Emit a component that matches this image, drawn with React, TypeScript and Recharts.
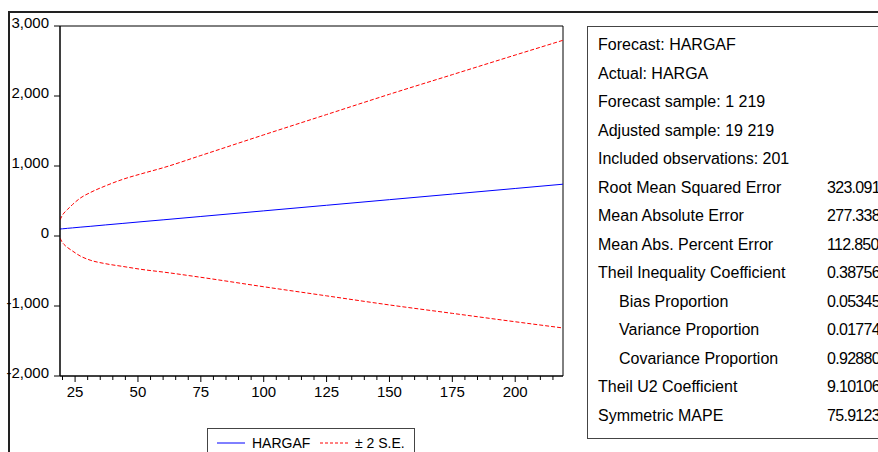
import React from 'react';
import { LineChart, Line, XAxis, YAxis, ReferenceArea } from 'recharts';

const xs = [19, 20, 21, 22, 24, 27, 31, 37, 44, 52, 60, 75, 100, 125, 150, 175, 200, 219];
const forecast = [100, 103, 106, 110, 116, 126, 138, 158, 180, 206, 231, 279, 359, 439, 519, 599, 679, 740];
const upper = [230, 300, 345, 380, 450, 540, 620, 715, 810, 895, 975, 1150, 1445, 1735, 2025, 2305, 2585, 2796];
const lower = [-30, -95, -135, -165, -215, -285, -345, -395, -435, -480, -515, -590, -725, -855, -985, -1105, -1225, -1314];

const yTicks = [-2000, -1000, 0, 1000, 2000, 3000];
const xTicksAll = [20, 25, 30, 35, 40, 45, 50, 55, 60, 65, 70, 75, 80, 85, 90, 95, 100, 105, 110, 115, 120, 125, 130, 135, 140, 145, 150, 155, 160, 165, 170, 175, 180, 185, 190, 195, 200, 205, 210, 215];
const xTicksMajor = [25, 50, 75, 100, 125, 150, 175, 200];

const statLabels = [
  'Forecast: HARGAF',
  'Actual: HARGA',
  'Forecast sample: 1 219',
  'Adjusted sample: 19 219',
  'Included observations: 201',
  'Root Mean Squared Error',
  'Mean Absolute Error',
  'Mean Abs. Percent Error',
  'Theil Inequality Coefficient',
  'Bias Proportion',
  'Variance Proportion',
  'Covariance Proportion',
  'Theil U2 Coefficient',
  'Symmetric MAPE',
];
const statValues = ['', '', '', '', '', '323.0910', '277.3388', '112.8502', '0.387565', '0.053455', '0.017741', '0.928804', '9.101065', '75.91238'];
const statIndented = [false, false, false, false, false, false, false, false, false, true, true, true, false, false];

const seriesNames = ['HARGAF', '\u00B1 2 S.E.'];

const data = xs.map((x, i) => ({ x, forecast: forecast[i], upper: upper[i], lower: lower[i] }));

const FONT = '"Liberation Sans", Arial, Helvetica, sans-serif';

const XTick = (props: any) => {
  const { x, y, payload } = props;
  const major = xTicksMajor.includes(payload.value);
  return (
    <g>
      <line x1={x} y1={y} x2={x} y2={y + (major ? 6 : 4)} stroke="#000" strokeWidth={1} />
      {major && (
        <text x={x} y={y + 21} textAnchor="middle" fontSize={15} fontFamily={FONT} fill="#000">
          {payload.value}
        </text>
      )}
    </g>
  );
};

const YTick = (props: any) => {
  const { x, y, payload } = props;
  return (
    <text x={x} y={y - 3} dy="0.36em" textAnchor="end" fontSize={15} fontFamily={FONT} fill="#000">
      {Number(payload.value).toLocaleString('en-US')}
    </text>
  );
};

export default function App() {
  return (
    <div
      style={{
        position: 'absolute',
        left: 0,
        top: 0,
        width: 878,
        height: 452,
        overflow: 'hidden',
        background: '#fff',
        fontFamily: FONT,
      }}
    >
      {/* outer frame */}
      <div style={{ position: 'absolute', left: 8, top: 11, width: 900, height: 2, background: '#222' }} />
      <div style={{ position: 'absolute', left: 8, top: 11, width: 2, height: 460, background: '#222' }} />

      <div style={{ position: 'absolute', left: 0, top: 0 }}>
        <LineChart width={580} height={452} data={data} margin={{ top: 26, right: 17, bottom: 46, left: 0 }}>
          <XAxis
            dataKey="x"
            type="number"
            domain={[19, 219]}
            ticks={xTicksAll}
            interval={0}
            tickLine={false}
            tickSize={0}
            tickMargin={0}
            height={30}
            axisLine={{ stroke: '#000' }}
            tick={<XTick />}
            allowDataOverflow
          />
          <YAxis
            type="number"
            domain={[-2000, 3000]}
            ticks={yTicks}
            interval={0}
            width={60}
            tickSize={6}
            tickMargin={5}
            tickLine={{ stroke: '#000' }}
            axisLine={{ stroke: '#000' }}
            tick={<YTick />}
            allowDataOverflow
          />
          <ReferenceArea x1={19} x2={219} y1={-2000} y2={3000} fill="none" stroke="#000" strokeWidth={1} />
          <Line dataKey="upper" type="monotone" stroke="#ff0000" strokeWidth={1} strokeDasharray="4 2" dot={false} isAnimationActive={false} />
          <Line dataKey="lower" type="monotone" stroke="#ff0000" strokeWidth={1} strokeDasharray="4 2" dot={false} isAnimationActive={false} />
          <Line dataKey="forecast" type="monotone" stroke="#0000ff" strokeWidth={1} dot={false} isAnimationActive={false} />
        </LineChart>
      </div>

      {/* legend */}
      <div
        style={{
          position: 'absolute',
          left: 207,
          top: 428,
          width: 208,
          height: 40,
          border: '1px solid #444',
          boxSizing: 'border-box',
        }}
      />
      <svg style={{ position: 'absolute', left: 0, top: 0 }} width={878} height={452}>
        <line x1={217} y1={443} x2={245} y2={443} stroke="#0000ff" strokeWidth={1} />
        <text x={252} y={448} fontSize={14} fontFamily={FONT} fill="#000">{seriesNames[0]}</text>
        <line x1={320} y1={443} x2={349} y2={443} stroke="#ff0000" strokeWidth={1} strokeDasharray="3 2" />
        <text x={355} y={448} fontSize={14} fontFamily={FONT} fill="#000">{seriesNames[1]}</text>
      </svg>

      {/* statistics box */}
      <div
        style={{
          position: 'absolute',
          left: 587,
          top: 26,
          width: 400,
          height: 413,
          border: '1px solid #444',
          boxSizing: 'border-box',
          paddingTop: 4,
          paddingLeft: 10,
          fontSize: 16,
          color: '#000',
          whiteSpace: 'nowrap',
        }}
      >
        {statLabels.map((lab, i) => (
          <div key={i} style={{ position: 'relative', height: 28.5, lineHeight: '28.5px' }}>
            <span style={{ position: 'absolute', left: statIndented[i] ? 21 : 0 }}>{lab}</span>
            <span style={{ position: 'absolute', left: 229, letterSpacing: -0.7 }}>{statValues[i]}</span>
          </div>
        ))}
      </div>
    </div>
  );
}
